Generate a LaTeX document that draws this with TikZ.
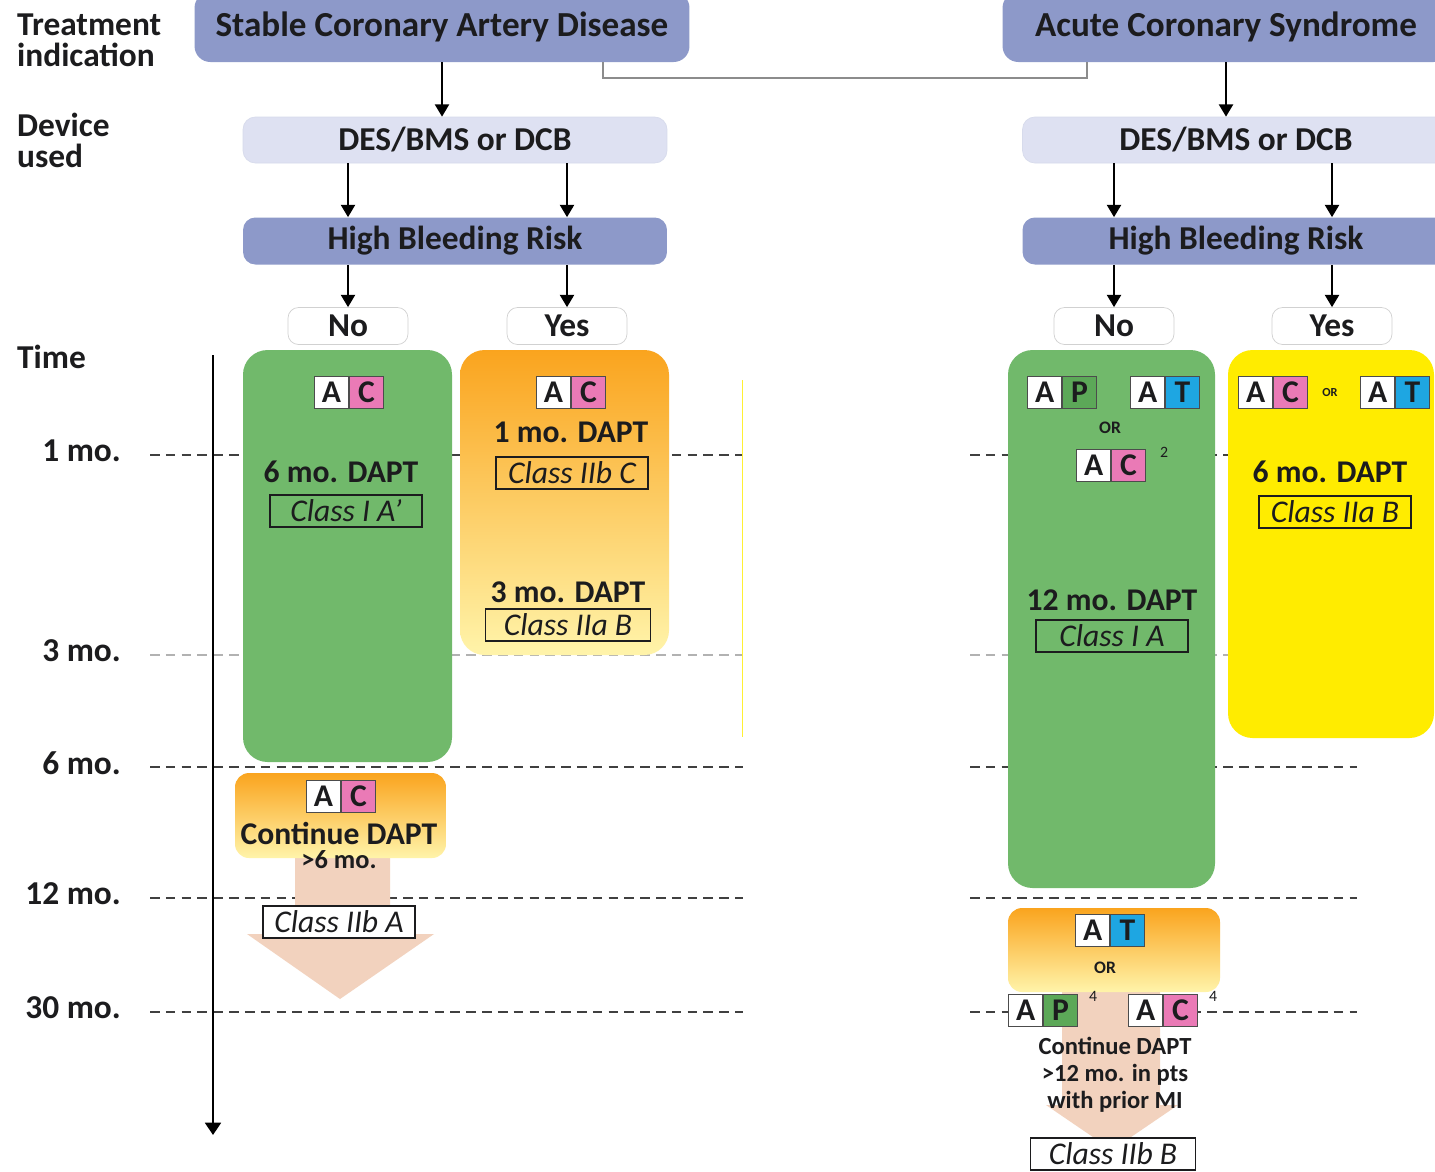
\documentclass[tikz,border=0pt]{standalone}
\usepackage{fontspec}
\setmainfont{Carlito}
\usepackage{tikz,xcolor}
\usetikzlibrary{positioning, arrows.meta}

\definecolor{slate}{RGB}{141,153,201}
\definecolor{lavender}{RGB}{222,225,242}
\definecolor{panelgreen}{RGB}{113,185,107}
\definecolor{pgreen}{RGB}{92,168,88}
\definecolor{orangetop}{RGB}{250,164,30}
\definecolor{paleyellow}{RGB}{255,244,170}
\definecolor{brightyellow}{RGB}{255,236,0}
\definecolor{cpink}{RGB}{234,122,182}
\definecolor{tcyan}{RGB}{30,166,226}
\definecolor{peach}{RGB}{242,210,190}
\definecolor{ink}{RGB}{28,28,30}

\tikzset{
    indication/.style={
        fill=slate,
        rounded corners=9pt,
        minimum height=1.4cm,
        text=ink,
        font=\bfseries\fontsize{20}{22}\selectfont
    },
    device/.style={
        fill=lavender,
        draw=slate!35,
        rounded corners=7pt,
        minimum height=0.92cm,
        text=ink,
        font=\bfseries\fontsize{19}{21}\selectfont
    },
    bleed/.style={
        fill=slate,
        rounded corners=7pt,
        minimum height=0.94cm,
        text=ink,
        font=\bfseries\fontsize{19}{21}\selectfont
    },
    answer/.style={
        fill=white,
        draw=black!18,
        rounded corners=6pt,
        minimum width=2.4cm,
        minimum height=0.74cm,
        text=ink,
        font=\bfseries\fontsize{19}{21}\selectfont
    },
    flow/.style={-{Triangle[width=8pt,length=7pt]}, line width=1.2pt},
    link/.style={draw=black!45, line width=0.8pt},
    monthline/.style={dash pattern=on 5.5pt off 3.5pt, line width=1pt, draw=black!75},
    faintline/.style={dash pattern=on 5.5pt off 3.5pt, line width=0.6pt, draw=black!30},
    rowlabel/.style={anchor=west, align=left, text=ink, font=\bfseries\fontsize{19}{17.6}\selectfont},
    monthlabel/.style={anchor=east, text=ink, font=\bfseries\fontsize{19}{21}\selectfont},
    cellA/.style={
        draw=black!70,
        fill=white,
        line width=0.5pt,
        minimum width=0.68cm,
        minimum height=0.64cm,
        inner sep=0pt,
        text=ink,
        font=\bfseries\fontsize{18}{18}\selectfont
    },
    dapt/.style={inner sep=1pt, text=ink, font=\bfseries\fontsize{18}{20}\selectfont},
    classbox/.style={
        draw=ink,
        line width=0.9pt,
        minimum width=3.05cm,
        minimum height=0.64cm,
        inner sep=1pt,
        text=ink,
        font=\itshape\fontsize{18}{20}\selectfont
    },
    ortext/.style={text=ink, inner sep=0pt, font=\bfseries\fontsize{10}{10}\selectfont},
    footmark/.style={text=ink, inner sep=0pt, font=\fontsize{9}{9}\selectfont}
}

% two-drug badge: name, position, colour, letter
\newcommand{\drugpair}[4]{%
    \node[cellA, anchor=east] (#1a) at (#2) {A};
    \node[cellA, fill=#3, right=0pt of #1a] (#1b) {#4};
}

\begin{document}
\begin{tikzpicture}[x=0.02cm, y=-0.02cm]
    \useasboundingbox (0,0) rectangle (1435,1171);
    \fill[white] (0,0) rectangle (1435,1171);

    % row labels
    \node[rowlabel] (lbTreat) at (11,40) {Treatment\\indication};
    \node[rowlabel] (lbDevice) at (11,140) {Device\\used};
    \node[rowlabel] (lbTime) at (11,357) {Time};

    % month grid
    \foreach \y/\t/\n in {455/1 mo./m1, 767/6 mo./m6, 898/12 mo./m12, 1012/30 mo./m30} {
        \node[monthlabel] (\n) at (127,\y-4) {\t};
        \draw[monthline] (150,\y) -- (743,\y);
        \draw[monthline] (970,\y) -- (1357,\y);
    }
    \node[monthlabel] (m3) at (127,651) {3 mo.};
    \draw[faintline] (150,655) -- (743,655);
    \draw[faintline] (970,655) -- (1357,655);

    % time axis
    \coordinate (tTop) at (213,355);
    \coordinate (tEnd) at (213,1135);
    \draw[line width=1.3pt, -{Triangle[width=9pt,length=7pt]}] (tTop) -- (tEnd);

    % flow boxes
    \node[indication, minimum width=9.9cm] (scad) at (442,27) {Stable Coronary Artery Disease};
    \node[indication, minimum width=8.94cm] (acs) at (1226,27) {Acute Coronary Syndrome};
    \node[device, minimum width=8.48cm] (desL) at (455,140) {DES/BMS or DCB};
    \node[device, minimum width=8.54cm] (desR) at (1236,140) {DES/BMS or DCB};
    \node[bleed, minimum width=8.48cm] (hbrL) at (455,241) {High Bleeding Risk};
    \node[bleed, minimum width=8.54cm] (hbrR) at (1236,241) {High Bleeding Risk};
    \node[answer] (noL) at (348,326) {No};
    \node[answer] (yesL) at (567,326) {Yes};
    \node[answer] (noR) at (1114,326) {No};
    \node[answer] (yesR) at (1332,326) {Yes};

    \coordinate (jL) at (603,78);
    \coordinate (jR) at (1087,78);
    \draw[link] (scad.south -| jL) -- (jL) -- (jR) -- (acs.south -| jR);

    \draw[flow] (scad.south) -- (scad.south |- desL.north);
    \draw[flow] (acs.south) -- (acs.south |- desR.north);
    \foreach \a in {noL, yesL} {
        \draw[flow] (\a |- desL.south) -- (\a |- hbrL.north);
        \draw[flow] (\a |- hbrL.south) -- (\a.north);
    }
    \foreach \a in {noR, yesR} {
        \draw[flow] (\a |- desR.south) -- (\a |- hbrR.north);
        \draw[flow] (\a |- hbrR.south) -- (\a.north);
    }

    % stable CAD, no HBR
    \fill[panelgreen, rounded corners=14pt] (243,350) rectangle (452,762);
    \drugpair{gL}{349,392}{cpink}{C}
    \node[dapt] (gLdapt) at (341,472) {6 mo. DAPT};
    \node[classbox] (gLclass) at (346,511) {Class I A’};

    % stable CAD, HBR
    \shade[top color=orangetop, bottom color=paleyellow, rounded corners=14pt] (460,350) rectangle (669,655);
    \drugpair{oL}{571,392}{cpink}{C}
    \node[dapt] (oLone) at (571,432) {1 mo. DAPT};
    \node[classbox] (oLclassA) at (572,473) {Class IIb C};
    \node[dapt] (oLthree) at (568,592) {3 mo. DAPT};
    \node[classbox, minimum width=3.3cm] (oLclassB) at (568,625) {Class IIa B};
    \fill[brightyellow!80] (741.5,380) rectangle (743,737);

    % stable CAD, beyond 6 months
    \fill[peach] (295,850) -- (390,850) -- (390,934) -- (434,934) -- (340,999)
        -- (247,934) -- (295,934) -- cycle;
    \shade[top color=orangetop, bottom color=paleyellow, rounded corners=8pt] (235,773) rectangle (446,858);
    \drugpair{cL}{341,796}{cpink}{C}
    \node[dapt] (cLtext) at (339,833) {Continue DAPT};
    \node[dapt, font=\bfseries\fontsize{15}{16}\selectfont] (cLmo) at (339,860) {>6 mo.};
    \node[classbox, fill=white] (cLclass) at (339,922) {Class IIb A};

    % ACS, no HBR
    \fill[panelgreen, rounded corners=14pt] (1008,350) rectangle (1215,888);
    \drugpair{apR}{1062,392}{pgreen}{P}
    \drugpair{atR}{1165,392}{tcyan}{T}
    \node[ortext] (gRor) at (1110,428) {OR};
    \drugpair{acR}{1111,465}{cpink}{C}
    \node[footmark] (gRnote) at (1164,452) {2};
    \node[dapt] (gRdapt) at (1112,600) {12 mo. DAPT};
    \node[classbox] (gRclass) at (1112,636) {Class I A};

    % ACS, HBR
    \fill[brightyellow, rounded corners=14pt] (1228,350) rectangle (1434,738);
    \drugpair{acY}{1273,392}{cpink}{C}
    \node[ortext, font=\bfseries\fontsize{7}{7}\selectfont] (yRor) at (1330,392) {OR};
    \drugpair{atY}{1395,392}{tcyan}{T}
    \node[dapt] (yRdapt) at (1330,472) {6 mo. DAPT};
    \node[classbox] (yRclass) at (1335,512) {Class IIa B};

    % ACS, beyond 12 months
    \fill[peach] (1062,985) -- (1160,985) -- (1160,1105) -- (1178,1105) -- (1112,1150)
        -- (1046,1105) -- (1062,1105) -- cycle;
    \shade[top color=orangetop, bottom color=paleyellow, rounded corners=8pt] (1008,908) rectangle (1220,992);
    \drugpair{atO}{1110,930}{tcyan}{T}
    \node[ortext] (oRor) at (1105,968) {OR};
    \drugpair{apO}{1043,1010}{pgreen}{P}
    \node[footmark] (apOnote) at (1093,996) {4};
    \drugpair{acO}{1163,1010}{cpink}{C}
    \node[footmark] (acOnote) at (1213,996) {4};
    \node[dapt, align=center, font=\bfseries\fontsize{14}{15.4}\selectfont] (oRtext) at (1115,1075)
        {Continue DAPT\\>12 mo. in pts\\with prior MI};
    \node[classbox, fill=white, minimum width=3.3cm] (oRclass) at (1113,1154) {Class IIb B};
\end{tikzpicture}
\end{document}
